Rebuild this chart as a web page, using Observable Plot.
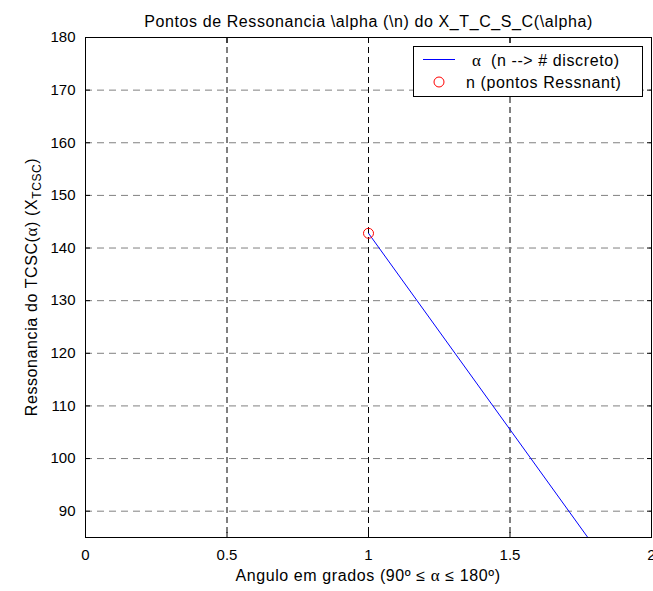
<!DOCTYPE html>
<html>
<head>
<meta charset="utf-8">
<script src="https://cdn.jsdelivr.net/npm/d3@7"></script>
<script src="https://cdn.jsdelivr.net/npm/@observablehq/plot@0.6"></script>
<style>
  html, body { margin: 0; padding: 0; background: #fff; overflow: hidden; }
  #chart svg { font-family: "Liberation Sans", Arial, sans-serif; display: block; }
  #chart svg g[aria-label="text"] text { letter-spacing: 0.6px; }
</style>
</head>
<body>
<div id="chart"></div>
<script>
// ---- data ----
const lineX = [1, 1.775];
const lineY = [142.8, 85];
const pointX = [1];
const pointY = [142.8];
const xTicks = [0, 0.5, 1, 1.5, 2];
const xTickLabels = ["0", "0.5", "1", "1.5", "2"];
const yTicks = [90, 100, 110, 120, 130, 140, 150, 160, 170, 180];
const titleText = "Pontos de Ressonancia \\alpha (\\n) do X_T_C_S_C(\\alpha)";
const legendLabels = ["(n --> # discreto)", "n (pontos Ressnant)"];

const lineData = lineX.map((x, i) => ({x, y: lineY[i]}));
const pointData = pointX.map((x, i) => ({x, y: pointY[i]}));

const W = 653, H = 591;
const chart = Plot.plot({
  width: W,
  height: H,
  marginLeft: 85,
  marginRight: 2,
  marginTop: 37,
  marginBottom: 54,
  style: {background: "#fff", fontFamily: "Liberation Sans, Arial, sans-serif"},
  x: {domain: [0, 2], label: null},
  y: {domain: [85, 180], label: null},
  marks: [
    Plot.gridX(xTicks, {stroke: "#000", strokeOpacity: 1, strokeDasharray: "6,4"}),
    Plot.gridY(yTicks, {stroke: "#808080", strokeOpacity: 1, strokeDasharray: "7,5"}),
    Plot.line(lineData, {x: "x", y: "y", stroke: "#0000ff", strokeWidth: 1, clip: true}),
    Plot.dot(pointData, {x: "x", y: "y", r: 5, stroke: "#ff0000", fill: "none", strokeWidth: 1}),
    Plot.frame({stroke: "#000"}),
    Plot.axisX(xTicks, {anchor: "bottom", tickSize: 0, tickPadding: 12, fontSize: 15, label: null,
      tickFormat: d => xTickLabels[xTicks.indexOf(d)]}),
    Plot.axisY(yTicks, {anchor: "left", tickSize: 0, tickPadding: 10, fontSize: 15, label: null}),
    Plot.axisX(xTicks, {anchor: "bottom", tickSize: -5, tickFormat: () => "", label: null}),
    Plot.axisX(xTicks, {anchor: "top", tickSize: -5, tickFormat: () => "", label: null}),
    Plot.axisY(yTicks, {anchor: "left", tickSize: -5, tickFormat: () => "", label: null}),
    Plot.axisY(yTicks, {anchor: "right", tickSize: -5, tickFormat: () => "", label: null}),
    Plot.text([titleText], {text: d => d, frameAnchor: "top", dy: -22, fontSize: 16, fill: "#000"})
  ]
});
document.getElementById("chart").appendChild(chart);

const svg = d3.select(chart);
const sans = "Liberation Sans, Arial, sans-serif";
const serif = "Liberation Serif, serif";

// x-axis label
const xl = svg.append("text")
  .attr("x", 368).attr("y", 581)
  .attr("text-anchor", "middle")
  .attr("font-family", sans).attr("font-size", 16).attr("letter-spacing", "0.6px")
  .attr("fill", "#000");
xl.append("tspan").text("Angulo em grados (90º ≤ ");
xl.append("tspan").attr("font-family", serif).attr("font-size", 17).text("α");
xl.append("tspan").text(" ≤ 180º)");

// y-axis label (rotated, with subscript)
const yl = svg.append("text")
  .attr("transform", "translate(37,287) rotate(-90)")
  .attr("text-anchor", "middle")
  .attr("font-family", sans).attr("font-size", 16).attr("letter-spacing", "0.6px")
  .attr("fill", "#000");
yl.append("tspan").text("Ressonancia do TCSC(");
yl.append("tspan").attr("font-family", serif).attr("font-size", 17).text("α");
yl.append("tspan").text(") (X");
yl.append("tspan").attr("font-size", 12).attr("dy", 4).text("TCSC");
yl.append("tspan").attr("dy", -4).text(")");

// legend
const lg = svg.append("g").attr("font-family", sans).attr("font-size", 16)
  .attr("letter-spacing", "0.6px").attr("text-anchor", "start").attr("fill", "#000");
lg.append("rect").attr("x", 413.5).attr("y", 46.5).attr("width", 229).attr("height", 50)
  .attr("fill", "#fff").attr("stroke", "#000");
lg.append("line").attr("x1", 423).attr("x2", 455).attr("y1", 59.5).attr("y2", 59.5)
  .attr("stroke", "#0000ff");
lg.append("text").attr("x", 472).attr("y", 60).attr("dominant-baseline", "central")
  .attr("text-anchor", "start").attr("font-family", serif).attr("font-size", 17).text("α");
lg.append("text").attr("x", 491).attr("y", 60).attr("dominant-baseline", "central")
  .attr("text-anchor", "start").text(legendLabels[0]);
lg.append("circle").attr("cx", 439).attr("cy", 82).attr("r", 5).attr("fill", "none").attr("stroke", "#ff0000");
lg.append("text").attr("x", 466).attr("y", 82).attr("dominant-baseline", "central")
  .attr("text-anchor", "start").text(legendLabels[1]);
</script>
</body>
</html>
